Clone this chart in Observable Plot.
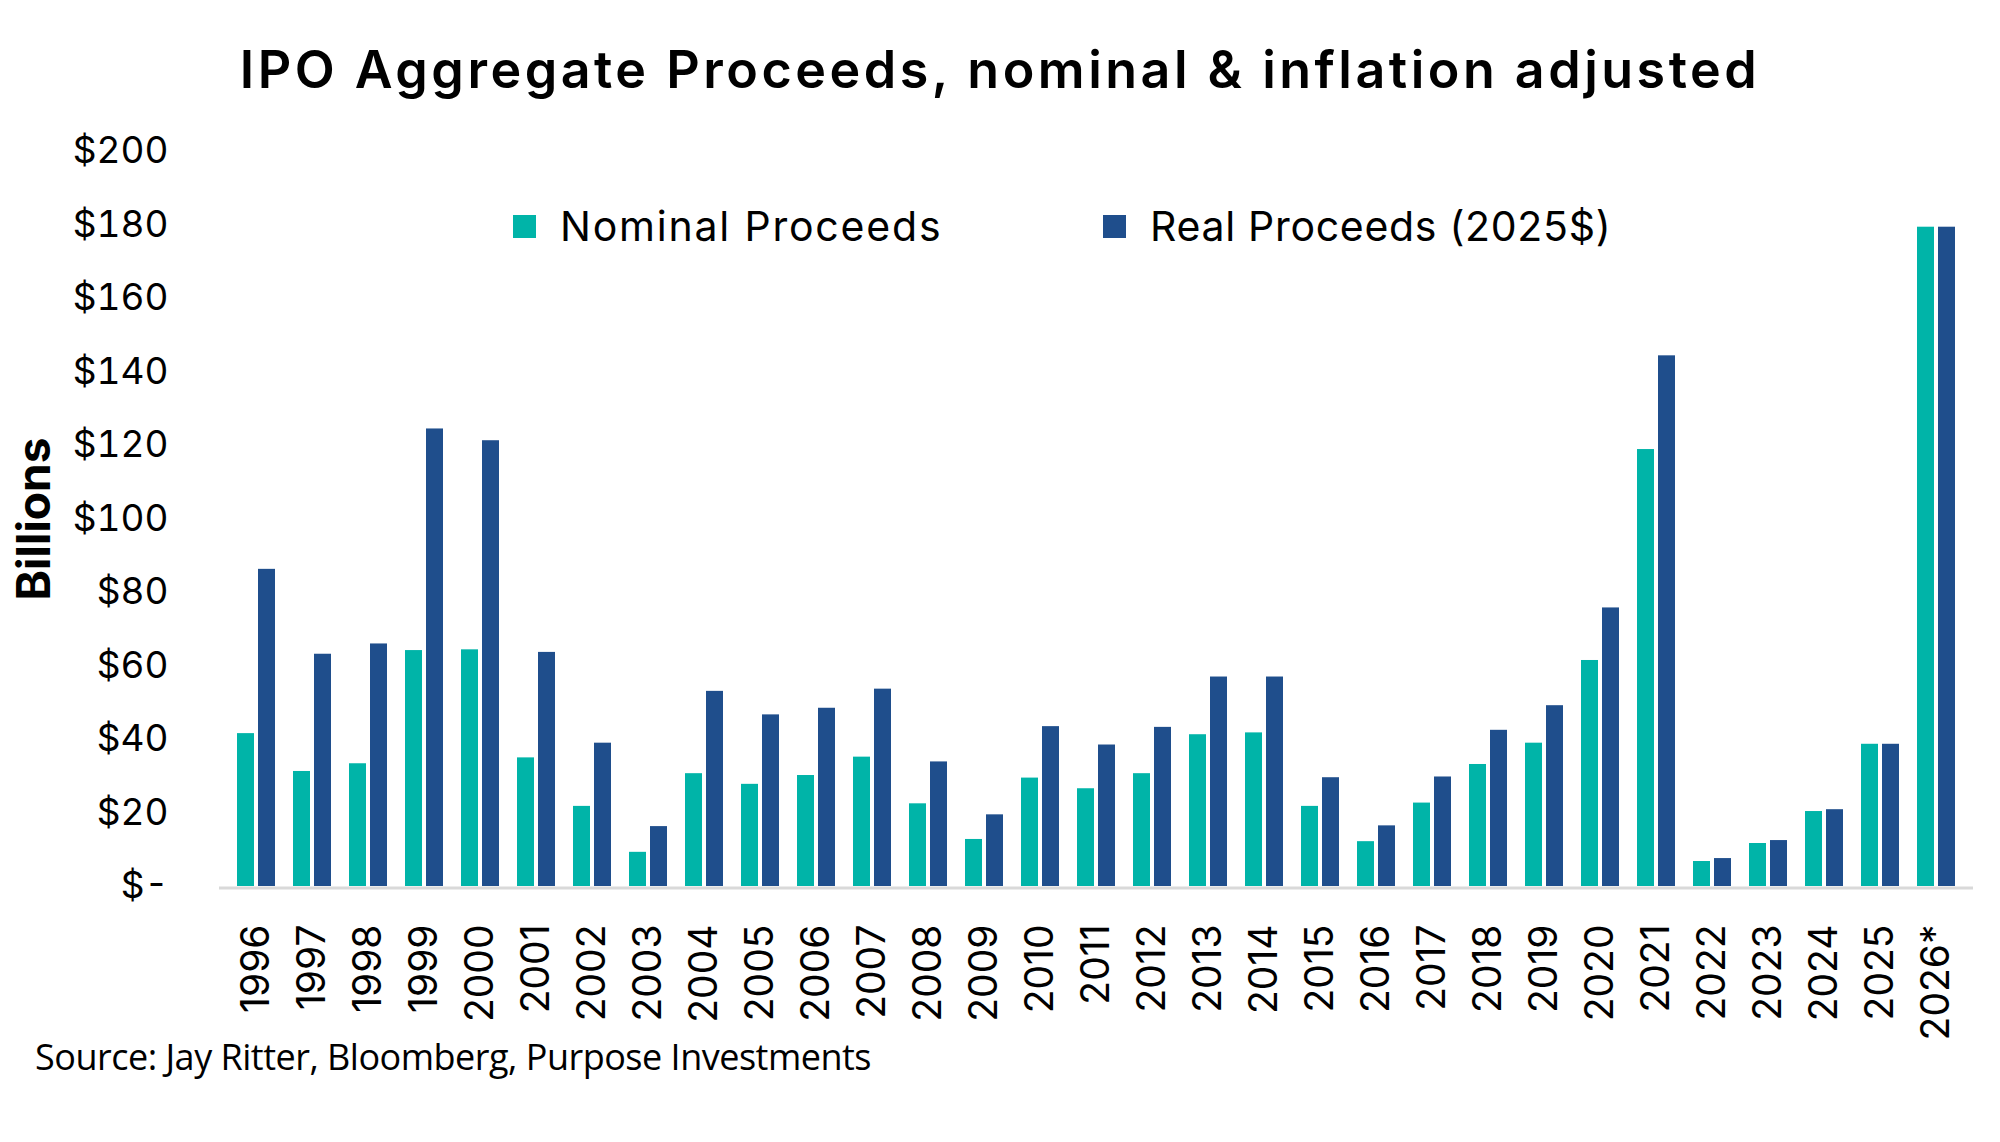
<!DOCTYPE html>
<html>
<head>
<meta charset="utf-8">
<script src="https://cdn.jsdelivr.net/npm/d3@7"></script>
<script src="https://cdn.jsdelivr.net/npm/@observablehq/plot@0.6"></script>
<style>
  html, body { margin: 0; padding: 0; background: #fff; }
  #wrap { position: relative; width: 2000px; height: 1142px; overflow: hidden; background: #fff; }
  #title { height: 115px; box-sizing: border-box; padding-top: 38px; text-align: center;
           font-family: Inter, "Open Sans", sans-serif; font-weight: 600; font-size: 52px; line-height: 64px;
           letter-spacing: 3.5px; color: #000; }
  #chart svg { display: block; }
  .leg { position: absolute; top: 200px; height: 52px; display: flex; align-items: center;
         font-family: Inter, "Open Sans", sans-serif; font-size: 41px; color: #000; white-space: nowrap; }
  .sw { width: 23px; height: 23px; margin-right: 24px; }
  #caption { position: absolute; left: 35px; top: 1035px; font-family: "Open Sans", sans-serif;
             font-size: 36px; line-height: 44px; letter-spacing: -0.5px; color: #000; white-space: nowrap; }
</style>
</head>
<body>
<div id="wrap">
  <div id="title">IPO Aggregate Proceeds, nominal &amp; inflation adjusted</div>
  <div id="chart"></div>
  <div id="legend"></div>
  <div id="caption">Source: Jay Ritter, Bloomberg, Purpose Investments</div>
</div>
<script>
const years = ["1996","1997","1998","1999","2000","2001","2002","2003","2004","2005","2006","2007","2008","2009","2010","2011","2012","2013","2014","2015","2016","2017","2018","2019","2020","2021","2022","2023","2024","2025","2026*"];
const nominal = [41.6, 31.3, 33.4, 64.2, 64.4, 35.0, 21.8, 9.3, 30.7, 27.8, 30.2, 35.2, 22.5, 12.8, 29.5, 26.6, 30.7, 41.3, 41.8, 21.8, 12.2, 22.7, 33.2, 39.0, 61.5, 118.9, 6.8, 11.7, 20.4, 38.7, 179.4];
const real = [86.3, 63.2, 66.0, 124.5, 121.3, 63.7, 39.0, 16.3, 53.1, 46.7, 48.5, 53.7, 33.9, 19.5, 43.5, 38.5, 43.3, 57.0, 57.0, 29.6, 16.5, 29.8, 42.5, 49.2, 75.8, 144.4, 7.6, 12.5, 20.9, 38.7, 179.4];
const seriesNames = ["Nominal Proceeds", "Real Proceeds (2025$)"];
const seriesColors = ["#00b4a8", "#1f4e8c"];
const yTicks = [0, 20, 40, 60, 80, 100, 120, 140, 160, 180, 200];
const yLabel = "Billions";

const nomData = years.map((y, i) => ({year: y, value: nominal[i]}));
const realData = years.map((y, i) => ({year: y, value: real[i]}));

const chart = Plot.plot({
  width: 2000,
  height: 925,
  marginTop: 36,
  marginBottom: 154,
  marginLeft: 219,
  marginRight: 27,
  style: {background: "#fff", color: "#000"},
  x: {type: "band", domain: years, paddingInner: 0.32, paddingOuter: 0.16},
  y: {domain: [0, 200]},
  marks: [
    Plot.barY(nomData, {x: "year", y: "value", fill: seriesColors[0], insetRight: 21}),
    Plot.barY(realData, {x: "year", y: "value", fill: seriesColors[1], insetLeft: 21}),
    Plot.ruleY([0], {stroke: "#d9d9d9", strokeWidth: 3, dy: 1.5}),
    Plot.axisY({ticks: yTicks, tickSize: 0, tickPadding: 51, label: null,
      tickFormat: d => d === 0 ? "$-" : "$" + d,
      fontSize: 37, fontFamily: "Inter, 'Open Sans', sans-serif"}),
    Plot.axisX({tickRotate: -90, tickSize: 0, tickPadding: 38, label: null,
      fontSize: 39, fontFamily: "Inter, 'Open Sans', sans-serif"}),
    Plot.text([yLabel], {frameAnchor: "left", textAnchor: "middle", rotate: -90, dx: -184, fontSize: 46, fontWeight: 700,
      fontFamily: "Inter, 'Open Sans', sans-serif", fill: "#000"})
  ]
});
document.getElementById("chart").appendChild(chart);

// Legend (HTML) built from series names & colors
const legend = document.getElementById("legend");
const legLeft = [513, 1103];
const legSpacing = ["1.8px", "0.7px"];
seriesNames.forEach((name, i) => {
  const d = document.createElement("div");
  d.className = "leg";
  d.style.left = legLeft[i] + "px";
  d.style.letterSpacing = legSpacing[i];
  const sw = document.createElement("div");
  sw.className = "sw";
  sw.style.background = seriesColors[i];
  const t = document.createElement("span");
  t.textContent = name;
  d.appendChild(sw); d.appendChild(t);
  legend.appendChild(d);
});
</script>
</body>
</html>
